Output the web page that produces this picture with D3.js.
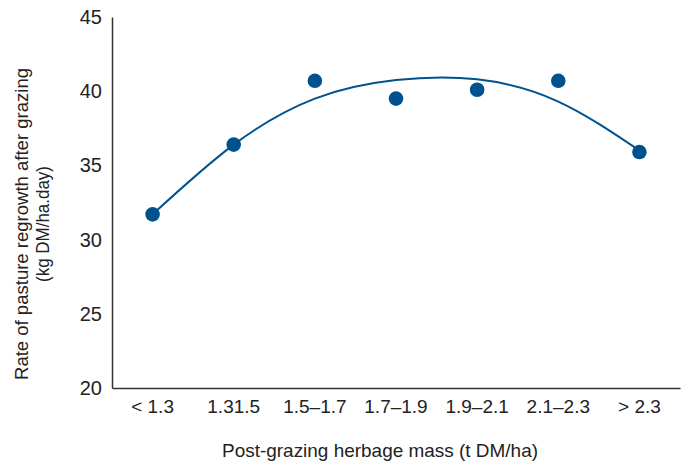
<!DOCTYPE html>
<html><head><meta charset="utf-8">
<script src="https://cdn.jsdelivr.net/npm/d3@7"></script>
<style>
html,body{margin:0;padding:0;background:#fff;}
svg{display:block;}
text{font-family:"Liberation Sans",Arial,sans-serif;fill:#222;}
</style></head>
<body><svg id="c" width="684" height="464"></svg>
<script>
const categories = ["< 1.3","1.31.5","1.5–1.7","1.7–1.9","1.9–2.1","2.1–2.3","> 2.3"];
const observed = [31.7, 36.4, 40.7, 39.5, 40.1, 40.7, 35.9];
const trend = [31.7, 36.4, 39.5, 40.75, 40.8, 39.3, 36.0];
const yTicks = [20, 25, 30, 35, 40, 45];
const xTitle = "Post-grazing herbage mass (t DM/ha)";
const yTitle = ["Rate of pasture regrowth after grazing", "(kg DM/ha.day)"];

const color = "#00528f";
const svg = d3.select("#c");
const mLeft = 112, mRight = 680, mTop = 17, mBottom = 388;

const x = d3.scaleBand().domain(categories).range([mLeft, mRight]).padding(0);
const y = d3.scaleLinear().domain([20, 45]).range([mBottom, mTop]);
const cx = c => x(c) + x.bandwidth() / 2;

const yAxis = svg.append("g").attr("transform", `translate(${mLeft},0)`)
  .call(d3.axisLeft(y).tickValues(yTicks).tickSize(0).tickPadding(10));
yAxis.select(".domain").attr("stroke", "#333").attr("stroke-width", 1.5);
yAxis.selectAll("text").style("font-size", "20px").attr("fill", "#222");

const xAxis = svg.append("g").attr("transform", `translate(0,${mBottom})`)
  .call(d3.axisBottom(x).tickSize(0).tickPadding(12));
xAxis.select(".domain").attr("stroke", "#333").attr("stroke-width", 1.5);
xAxis.selectAll("text").style("font-size", "19px").attr("fill", "#222");

const line = d3.line().x((d, i) => cx(categories[i])).y(d => y(d)).curve(d3.curveNatural);
svg.append("path").datum(trend).attr("d", line)
  .attr("fill", "none").attr("stroke", color).attr("stroke-width", 2);

svg.selectAll("circle.pt").data(observed).enter().append("circle")
  .attr("class", "pt")
  .attr("cx", (d, i) => cx(categories[i]))
  .attr("cy", d => y(d))
  .attr("r", 7.3)
  .attr("fill", color);

svg.append("text").attr("x", 380).attr("y", 457).attr("text-anchor", "middle")
  .style("font-size", "19px").attr("textLength", 316).attr("lengthAdjust", "spacingAndGlyphs").text(xTitle);
const yt = svg.append("g").attr("transform", "translate(0,224) rotate(-90)");
yt.append("text").attr("x", 0).attr("y", 28).attr("text-anchor", "middle")
  .style("font-size", "19px").attr("textLength", 312).attr("lengthAdjust", "spacingAndGlyphs").text(yTitle[0]);
yt.append("text").attr("x", 0).attr("y", 49).attr("text-anchor", "middle")
  .style("font-size", "19px").attr("textLength", 116).attr("lengthAdjust", "spacingAndGlyphs").text(yTitle[1]);
</script>
</body></html>
